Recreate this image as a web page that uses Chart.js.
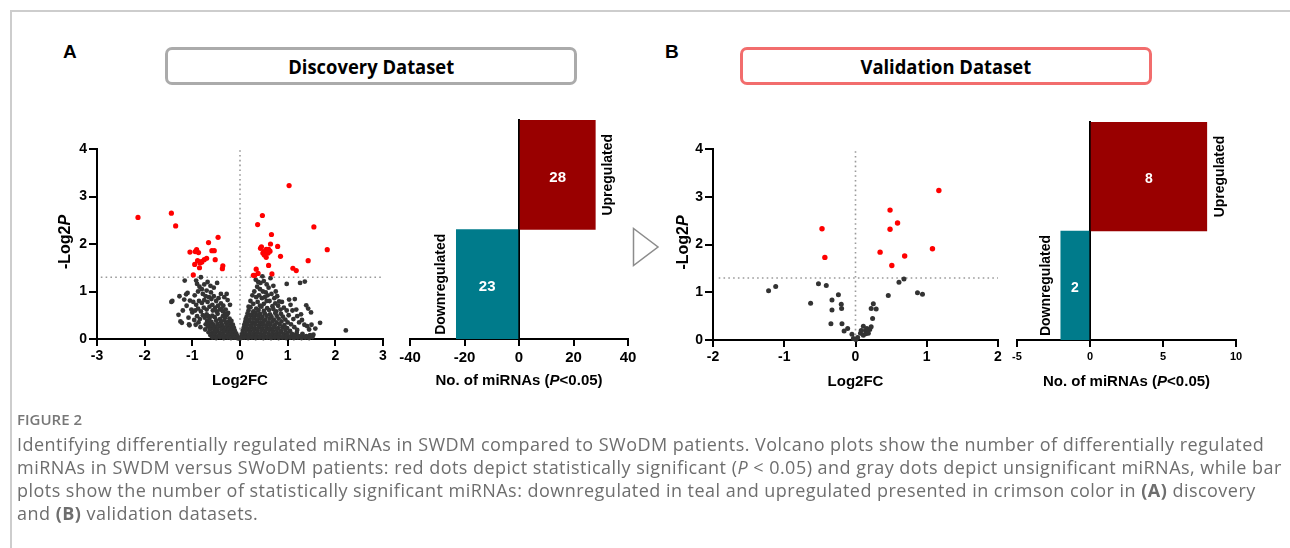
<!DOCTYPE html>
<html>
<head>
<meta charset="utf-8">
<script src="https://cdn.jsdelivr.net/npm/chart.js@4.4.1/dist/chart.umd.min.js"></script>
<style>
  html, body { margin:0; padding:0; background:#fff; }
  body { width:1290px; height:548px; position:relative; overflow:hidden; }
  #frame { position:absolute; left:10px; top:10px; width:1300px; height:560px; border-left:2px solid #cdcdcd; border-top:2px solid #cdcdcd; }
  .panel-letter { position:absolute; font-family:'Liberation Sans', Arial, sans-serif; font-weight:bold; font-size:19px; color:#000; }
  .dbox { position:absolute; box-sizing:border-box; height:38px; border-radius:7px; border:3px solid #aaa; display:flex; align-items:center; justify-content:center; }
  .dbox span { font-family:'Open Sans', sans-serif; font-weight:700; font-size:20px; color:#000; display:inline-block; transform:scaleX(0.92); }
  canvas { position:absolute; }
  #tri { position:absolute; left:0; top:0; }
  .cap { position:absolute; left:17px; font-family:'Open Sans', sans-serif; color:#6e6e6e; white-space:nowrap; }
  .figlabel { top:409px; font-size:15px; font-weight:600; color:#777; }
  .capline { font-size:18px; letter-spacing:0.47px; }
</style>
</head>
<body>
<div id="frame"></div>
<div class="panel-letter" style="left:63px; top:41px;">A</div>
<div class="panel-letter" style="left:665px; top:41px;">B</div>
<div class="dbox" style="left:165px; top:47px; width:412px; border-color:#ababab;"><span>Discovery Dataset</span></div>
<div class="dbox" style="left:740px; top:47px; width:412px; border-color:#f26d6d;"><span>Validation Dataset</span></div>

<canvas id="volA" width="385" height="265" style="left:20px; top:130px;"></canvas>
<canvas id="barA" width="255" height="295" style="left:395px; top:100px;"></canvas>
<canvas id="volB" width="380" height="265" style="left:640px; top:130px;"></canvas>
<canvas id="barB" width="270" height="295" style="left:1000px; top:100px;"></canvas>

<svg id="tri" width="1290" height="548"><polygon points="633.5,228.5 633.5,265.5 658,247" fill="#fff" stroke="#8c8c8c" stroke-width="1.5"/></svg>

<div class="cap figlabel">FIGURE 2</div>
<div class="cap capline" style="top:432px;">Identifying differentially regulated miRNAs in SWDM compared to SWoDM patients. Volcano plots show the number of differentially regulated</div>
<div class="cap capline" style="top:455px;">miRNAs in SWDM versus SWoDM patients: red dots depict statistically significant (<i>P</i> &lt; 0.05) and gray dots depict unsignificant miRNAs, while bar</div>
<div class="cap capline" style="top:478px;">plots show the number of statistically significant miRNAs: downregulated in teal and upregulated presented in crimson color in <b>(A)</b> discovery</div>
<div class="cap capline" style="top:501px;">and <b>(B)</b> validation datasets.</div>

<script>
// ---------------- DATA ----------------
const barCategories = ['Upregulated', 'Downregulated'];
const discoveryBarValues = [28, -23];
const validationBarValues = [8, -2];

const discoveryXTicks = [-3, -2, -1, 0, 1, 2, 3];
const validationXTicks = [-2, -1, 0, 1, 2];
const volcanoYTicks = [0, 1, 2, 3, 4];
const discoveryBarTicks = [-40, -20, 0, 20, 40];
const validationBarTicks = [-5, 0, 5, 10];

const significanceLine = 1.3;

const discoveryRed = [
  [-2.14,2.56],[-1.44,2.65],[-1.35,2.38],[-0.66,2.03],[-0.46,2.14],[-1.05,1.83],[-0.94,1.84],[-0.91,1.88],
  [-0.87,1.82],[-0.59,1.86],[-0.54,1.86],[-0.70,1.70],[-0.75,1.67],[-0.89,1.65],[-0.81,1.63],[-0.95,1.57],
  [-0.85,1.50],[-0.52,1.67],[-0.36,1.54],[-0.37,1.48],[-0.98,1.35],[-0.84,1.60],[-0.80,1.62],
  [1.03,3.23],[0.47,2.60],[0.37,2.41],[1.55,2.36],[0.66,2.20],[0.64,2.00],[0.43,1.91],[0.45,1.94],
  [0.79,1.95],[0.55,1.89],[0.60,1.89],[1.83,1.88],[0.48,1.81],[0.51,1.77],[0.59,1.81],[0.55,1.72],
  [0.85,1.74],[1.43,1.65],[0.60,1.55],[0.34,1.47],[1.11,1.49],[1.18,1.44],[0.38,1.38],[0.28,1.34],
  [0.67,1.37],[0.31,1.34],[0.63,1.85],[0.50,1.84]
];

const discoveryGray = [
  // left, scattered upper part
  [-1.44,0.78],[-1.42,0.80],[-1.29,0.51],[-1.22,0.34],[-1.06,0.29],[-1.16,1.23],[-1.13,0.94],[-1.10,0.97],
  [-1.27,0.90],[-1.17,0.83],[-1.05,0.81],[-1.00,0.56],[-0.92,1.23],[-0.90,1.16],[-0.82,1.30],[-0.83,0.25],
  [-0.73,0.20],[-0.66,0.48],[-0.61,0.98],[-0.48,1.18],[-0.28,0.95],[-0.21,0.72],[-1.25,0.37],[-1.07,0.31],
  [-0.85,1.10],[-0.80,1.05],[-0.88,1.00],[-0.95,0.92],[-0.78,0.95],[-0.72,0.90],[-0.70,1.02],[-0.65,0.88],
  [-0.98,0.78],[-0.92,0.72],[-0.86,0.80],[-0.80,0.76],[-0.75,0.82],[-0.68,0.78],[-0.60,0.84],[-0.55,0.90],
  [-0.50,0.80],[-0.45,0.86],[-0.40,0.75],[-0.35,0.70],[-1.02,0.62],[-0.94,0.60],[-0.88,0.64],[-0.82,0.58],
  [-0.76,0.66],[-0.70,0.62],[-0.64,0.68],[-0.58,0.72],[-0.52,0.66],[-0.46,0.70],[-0.42,0.62],[-0.36,0.58],
  [-0.30,0.62],[-0.25,0.55],[-1.12,0.70],[-1.08,0.45],[-0.96,0.40],[-0.90,0.48],[-0.84,0.42],[-0.78,0.50],
  [-0.93,0.30],[-0.87,0.35],[-1.20,0.60],[-0.55,1.08],[-0.62,1.12],[-0.75,1.15],[-0.68,1.20],[-0.40,0.95],
  [-0.33,0.88],[-0.26,0.82],[-0.57,0.60],[-0.49,0.58],[-0.39,0.64],[-0.31,0.53],
  // left, dense lower part
  [-0.70,0.52],[-0.58,0.49],[-0.47,0.53],[-0.36,0.48],[-0.27,0.51],
  [-0.74,0.45],[-0.64,0.43],[-0.53,0.46],[-0.42,0.42],[-0.31,0.45],[-0.22,0.43],
  [-0.69,0.38],[-0.60,0.36],[-0.50,0.39],[-0.40,0.37],[-0.33,0.39],[-0.25,0.36],[-0.18,0.38],
  [-0.72,0.31],[-0.64,0.33],[-0.56,0.31],[-0.47,0.32],[-0.38,0.30],[-0.29,0.33],[-0.21,0.31],[-0.15,0.30],
  [-0.67,0.26],[-0.59,0.27],[-0.51,0.25],[-0.43,0.27],[-0.35,0.25],[-0.27,0.27],[-0.20,0.25],[-0.13,0.24],
  [-0.63,0.20],[-0.55,0.21],[-0.47,0.19],[-0.39,0.21],[-0.31,0.19],[-0.24,0.21],[-0.17,0.19],[-0.11,0.18],
  [-0.66,0.14],[-0.58,0.13],[-0.50,0.15],[-0.42,0.13],[-0.34,0.15],[-0.26,0.13],[-0.19,0.14],[-0.13,0.13],[-0.08,0.12],
  [-0.62,0.08],[-0.54,0.09],[-0.46,0.07],[-0.38,0.09],[-0.30,0.07],[-0.23,0.08],[-0.16,0.08],[-0.10,0.07],[-0.05,0.06],
  [-0.58,0.03],[-0.50,0.02],[-0.42,0.04],[-0.34,0.02],[-0.26,0.03],[-0.19,0.02],[-0.12,0.03],[-0.06,0.02],[-0.02,0.01],
  // right, scattered upper part
  [0.98,1.16],[1.26,1.18],[1.36,1.21],[1.15,0.84],[1.39,0.71],[1.43,0.64],[1.49,0.56],[1.68,0.34],
  [2.22,0.18],[1.41,0.27],[1.24,0.35],[1.20,0.48],[1.06,0.72],[1.03,0.83],[0.78,0.90],[0.82,0.79],
  [0.68,0.69],[0.47,1.32],[0.64,1.28],[0.33,1.25],[0.43,1.18],[0.38,1.20],[0.50,1.22],[0.56,1.15],
  [0.60,1.08],[0.36,1.10],[0.42,1.05],[0.48,1.00],[0.54,0.98],[0.30,1.00],[0.26,0.92],[0.34,0.88],
  [0.40,0.92],[0.46,0.86],[0.52,0.88],[0.58,0.92],[0.66,0.95],[0.72,0.86],[0.88,0.78],[0.92,0.66],
  [0.98,0.60],[1.10,0.60],[1.02,0.50],[1.12,0.42],[1.30,0.40],[1.35,0.30],[0.75,1.00],[0.70,1.12],
  [0.62,0.80],[0.22,0.80],[0.18,0.68],[0.85,0.62],[0.80,0.70],[0.74,0.75],[1.18,0.62],[1.28,0.52],
  [1.50,0.30],[1.58,0.22],[1.45,0.20],[0.28,0.74],[0.37,0.78],[0.50,0.74],[0.56,0.80],[0.42,0.70],
  // right, dense lower part
  [0.22,0.67],[0.34,0.64],[0.45,0.68],[0.57,0.65],[0.70,0.63],
  [0.18,0.60],[0.28,0.58],[0.39,0.61],[0.50,0.59],[0.61,0.61],[0.76,0.58],
  [0.16,0.54],[0.25,0.52],[0.33,0.55],[0.42,0.53],[0.52,0.54],[0.63,0.52],[0.74,0.55],[0.86,0.53],
  [0.14,0.47],[0.22,0.49],[0.30,0.47],[0.38,0.49],[0.47,0.47],[0.56,0.49],[0.66,0.47],[0.77,0.49],[0.90,0.47],
  [0.12,0.42],[0.20,0.41],[0.28,0.43],[0.36,0.41],[0.44,0.43],[0.53,0.41],[0.62,0.43],[0.71,0.41],[0.81,0.43],[0.95,0.41],
  [0.11,0.36],[0.18,0.37],[0.26,0.35],[0.34,0.37],[0.42,0.35],[0.50,0.37],[0.59,0.35],[0.68,0.37],[0.77,0.35],[0.87,0.37],[1.00,0.35],
  [0.09,0.30],[0.16,0.31],[0.24,0.29],[0.32,0.31],[0.40,0.29],[0.48,0.31],[0.56,0.29],[0.64,0.31],[0.73,0.29],[0.83,0.31],[0.93,0.29],[1.07,0.31],
  [0.08,0.24],[0.15,0.23],[0.23,0.25],[0.31,0.23],[0.39,0.25],[0.47,0.23],[0.55,0.25],[0.63,0.23],[0.71,0.25],[0.80,0.23],[0.89,0.25],[0.99,0.23],[1.14,0.25],
  [0.06,0.18],[0.13,0.19],[0.21,0.17],[0.29,0.19],[0.37,0.17],[0.45,0.19],[0.53,0.17],[0.61,0.19],[0.69,0.17],[0.77,0.19],[0.86,0.17],[0.95,0.19],[1.05,0.17],[1.20,0.19],
  [0.05,0.12],[0.12,0.11],[0.20,0.13],[0.28,0.11],[0.36,0.13],[0.44,0.11],[0.52,0.13],[0.60,0.11],[0.68,0.13],[0.76,0.11],[0.84,0.13],[0.92,0.11],[1.00,0.13],[1.09,0.11],[1.19,0.13],[1.31,0.11],
  [0.04,0.07],[0.11,0.06],[0.19,0.08],[0.27,0.06],[0.35,0.08],[0.43,0.06],[0.51,0.08],[0.59,0.06],[0.67,0.08],[0.75,0.06],[0.83,0.08],[0.91,0.06],[0.99,0.08],[1.07,0.06],[1.15,0.08],[1.23,0.06],[1.31,0.08],[1.39,0.06],[1.47,0.08],[1.54,0.09],
  [0.02,0.02],[0.09,0.03],[0.17,0.02],[0.25,0.03],[0.33,0.02],[0.41,0.03],[0.49,0.02],[0.57,0.03],[0.65,0.02],[0.73,0.03],[0.81,0.02],[0.89,0.03],[0.97,0.02],[1.05,0.03],[1.13,0.02],[1.21,0.03],[1.29,0.02],[1.37,0.03],[1.45,0.02],[1.52,0.04]
];

const validationRed = [
  [1.17,3.13],[0.485,2.72],[0.59,2.45],[0.485,2.32],[-0.47,2.33],[-0.43,1.73],[0.345,1.84],[1.08,1.91],[0.69,1.76],[0.51,1.56]
];

const validationGray = [
  [-1.22,1.03],[-1.12,1.12],[-0.52,1.18],[-0.41,1.14],[-0.24,0.95],[-0.63,0.77],[-0.33,0.84],[-0.20,0.75],
  [-0.195,0.66],[-0.33,0.63],[-0.345,0.34],[-0.19,0.34],[-0.16,0.19],[-0.11,0.24],[-0.05,0.12],[-0.03,0.03],
  [0.03,0.05],[0.005,0.01],[0.07,0.14],[0.11,0.29],[0.08,0.20],[0.14,0.20],[0.16,0.24],[0.145,0.13],
  [0.20,0.22],[0.22,0.28],[0.18,0.14],[0.11,0.10],[0.24,0.45],[0.22,0.66],[0.25,0.76],[0.29,0.65],
  [0.46,0.93],[0.68,1.28],[0.61,1.21],[0.87,0.99],[0.94,0.96]
];

// ---------------- STYLE / HELPERS ----------------
const FONT = "'Liberation Sans', Arial, Helvetica, sans-serif";
const CRIMSON = '#990000';
const TEAL = '#007b8b';
const toXY = arr => arr.map(p => ({x: p[0], y: p[1]}));

const richTitles = {
  id: 'richTitles',
  afterDraw(chart, args, opts) {
    const ctx = chart.ctx, ca = chart.chartArea;
    (opts.items || []).forEach(it => {
      ctx.save();
      let cx, cy, rot = 0;
      if (it.side === 'bottom') { cx = (ca.left + ca.right) / 2; cy = ca.bottom + it.offset; }
      else { cx = ca.left - it.offset; cy = (ca.top + ca.bottom) / 2 + (it.dy || 0); rot = -Math.PI / 2; }
      ctx.translate(cx, cy); ctx.rotate(rot);
      let total = 0;
      const parts = it.parts.map(p => {
        const f = (p.italic ? 'italic ' : '') + 'bold ' + it.size + 'px ' + FONT;
        ctx.font = f; const w = ctx.measureText(p.text).width; total += w;
        return {text: p.text, f, w};
      });
      let x = -total / 2;
      ctx.textBaseline = 'middle'; ctx.textAlign = 'left'; ctx.fillStyle = '#000';
      parts.forEach(p => { ctx.font = p.f; ctx.fillText(p.text, x, 0); x += p.w; });
      ctx.restore();
    });
  }
};

const barLabels = {
  id: 'barLabels',
  afterDatasetsDraw(chart, args, opts) {
    const ctx = chart.ctx;
    const meta = chart.getDatasetMeta(0);
    const ds = chart.data.datasets[0];
    meta.data.forEach((bar, i) => {
      const v = ds.data[i];
      const props = bar.getProps(['x', 'y', 'base'], true);
      ctx.save();
      ctx.fillStyle = '#fff';
      ctx.font = 'bold ' + opts.valueSize + 'px ' + FONT;
      ctx.textAlign = 'center'; ctx.textBaseline = 'middle';
      ctx.fillText(String(Math.abs(v)), (props.x + props.base) / 2, props.y + 3);
      ctx.restore();
      ctx.save();
      ctx.fillStyle = '#000';
      ctx.font = 'bold 14px ' + FONT;
      ctx.textAlign = 'center'; ctx.textBaseline = 'middle';
      const lx = v >= 0 ? props.x + 13 : props.x - 15;
      ctx.translate(lx, props.y);
      ctx.rotate(-Math.PI / 2);
      ctx.fillText(chart.data.labels[i], 0, 0);
      ctx.restore();
    });
  }
};

function axisCommon(size, pad, tickLen) {
  return {
    ticks: { color: '#000', font: { family: FONT, size: size, weight: 'bold' }, padding: pad },
    grid: { display: true, drawOnChartArea: false, drawTicks: true, tickLength: tickLen, color: '#000', lineWidth: 2 },
    border: { display: true, color: '#000', width: 2 }
  };
}

function volcano(id, gray, red, xTicks, yAxisW, xAxisH, padding, radius, yTitleOffset) {
  const xa = axisCommon(14, 2, 7);
  const ya = axisCommon(14, 2, 8);
  xa.ticks.stepSize = 1; ya.ticks.stepSize = 1;
  new Chart(document.getElementById(id), {
    type: 'scatter',
    data: {
      datasets: [
        { type: 'line', data: [{x: 0, y: volcanoYTicks[0]}, {x: 0, y: volcanoYTicks[volcanoYTicks.length - 1]}], borderColor: '#9a9a9a', borderWidth: 1.6, borderDash: [1.6, 3.2], pointRadius: 0, order: 3 },
        { type: 'line', data: [{x: xTicks[0] + 0.08, y: significanceLine}, {x: xTicks[xTicks.length - 1], y: significanceLine}], borderColor: '#9a9a9a', borderWidth: 1.6, borderDash: [1.6, 3.2], pointRadius: 0, order: 3 },
        { data: toXY(gray), backgroundColor: '#333333', borderWidth: 0, pointRadius: radius, order: 2, clip: false },
        { data: toXY(red), backgroundColor: '#ff0000', borderWidth: 0, pointRadius: radius + 0.2, order: 1, clip: false }
      ]
    },
    options: {
      responsive: false, animation: false, devicePixelRatio: 1,
      layout: { padding: padding },
      plugins: {
        legend: { display: false }, tooltip: { enabled: false },
        richTitles: { items: [
          { side: 'bottom', offset: 42, size: 15, parts: [{text: 'Log2FC'}] },
          { side: 'left', offset: yTitleOffset, size: 16, dy: -2, parts: [{text: '-Log2'}, {text: 'P', italic: true}] }
        ] }
      },
      scales: {
        x: Object.assign(xa, { type: 'linear', min: xTicks[0], max: xTicks[xTicks.length - 1], afterFit: s => { s.height = xAxisH; } }),
        y: Object.assign(ya, { type: 'linear', min: volcanoYTicks[0], max: volcanoYTicks[volcanoYTicks.length - 1], afterFit: s => { s.width = yAxisW; } })
      }
    },
    plugins: [richTitles]
  });
}

function barChart(id, values, ticks, step, tickSize, valueSize, xAxisH, padding) {
  const xa = axisCommon(tickSize, 3, 7);
  xa.ticks.stepSize = step;
  new Chart(document.getElementById(id), {
    type: 'bar',
    data: {
      labels: barCategories,
      datasets: [{ data: values, backgroundColor: values.map(v => v >= 0 ? CRIMSON : TEAL), borderWidth: 0, categoryPercentage: 1, barPercentage: 1 }]
    },
    options: {
      indexAxis: 'y', responsive: false, animation: false, devicePixelRatio: 1,
      layout: { padding: padding },
      plugins: {
        legend: { display: false }, tooltip: { enabled: false },
        barLabels: { valueSize: valueSize },
        richTitles: { items: [
          { side: 'bottom', offset: 42, size: 15, parts: [{text: 'No. of miRNAs ('}, {text: 'P', italic: true}, {text: '<0.05)'}] }
        ] }
      },
      scales: {
        x: Object.assign(xa, { type: 'linear', min: ticks[0], max: ticks[ticks.length - 1], afterFit: s => { s.height = xAxisH; } }),
        y: { position: { x: 0 }, ticks: { display: false }, grid: { display: false }, border: { display: true, color: '#000', width: 2 } }
      }
    },
    plugins: [barLabels, richTitles]
  });
}

volcano('volA', discoveryGray, discoveryRed, discoveryXTicks, 77, 56, { left: 0, right: 22, top: 19, bottom: 0 }, 2.4, 31);
volcano('volB', validationGray, validationRed, validationXTicks, 73, 55, { left: 0, right: 22, top: 19, bottom: 0 }, 2.5, 29);
barChart('barA', discoveryBarValues, discoveryBarTicks, 20, 15, 15, 56, { left: 15, right: 22, top: 20, bottom: 0 });
barChart('barB', validationBarValues, validationBarTicks, 5, 11, 14, 55, { left: 17, right: 34, top: 22, bottom: 0 });
</script>
</body>
</html>
